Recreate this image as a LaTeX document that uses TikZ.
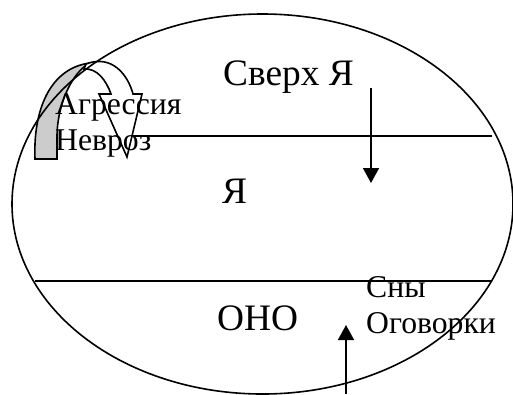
\documentclass[tikz,border=0pt]{standalone}
\usepackage{fontspec}
\setmainfont{Liberation Serif}
\usetikzlibrary{arrows.meta,shapes.geometric}
\begin{document}
\begin{tikzpicture}[x=1bp,y=-1bp,
  big/.style={anchor=base west,inner sep=0pt,font=\fontsize{37.5}{43}\selectfont},
  small/.style={anchor=base west,inner sep=0pt,font=\fontsize{31.8}{36}\selectfont},
  outline/.style={line width=1.6bp},
  flow/.style={line width=1.6bp,-{Triangle[length=15bp,width=16bp]}},
  band/.style={line width=1.6bp,line join=miter}]
\useasboundingbox (0,0) rectangle (513,394);
% horizontal dividers
\coordinate (t1) at (128,136);
\coordinate (t2) at (492,136);
\coordinate (b1) at (35,281);
\coordinate (b2) at (492,281);
\draw[outline] (t1) -- (t2);
\draw[outline] (b1) -- (b2);
% curved arrow (gray back part, white front part)
\draw[band,fill=gray!40] (35,159) .. controls (33,110) and (50,68) .. (90,63)
  .. controls (72,72) and (57,105) .. (57,137) -- (57,159) -- cycle;
\draw[band,fill=white] (86,64) .. controls (112,54) and (128,75) .. (133,94)
  -- (142,94) -- (127,157) -- (99,94) -- (111,94)
  .. controls (106,80) and (97,68) .. (84,69) -- cycle;
% ellipse
\node[draw,outline,ellipse,minimum width=501bp,minimum height=380bp,inner sep=0pt] (ell) at (262.5,204) {};
% texts
\node[big] (sverh) at (223,85) {Сверх Я};
\node[big] (ya) at (222,203) {Я};
\node[big] (ono) at (217,330) {ОНО};
\node[small] (sny) at (366,297) {Сны};
\node[small] (ogov) at (366,333) {Оговорки};
\node[small] (agr) at (55,114) {Агрессия};
\node[small] (nevr) at (55,150) {Невроз};
% arrows
\coordinate (d1) at (371,88);
\coordinate (d2) at (371,183);
\coordinate (u1) at (346,394);
\coordinate (u2) at (346,325);
\draw[flow] (d1) -- (d2);
\draw[flow] (u1) -- (u2);
\end{tikzpicture}
\end{document}
